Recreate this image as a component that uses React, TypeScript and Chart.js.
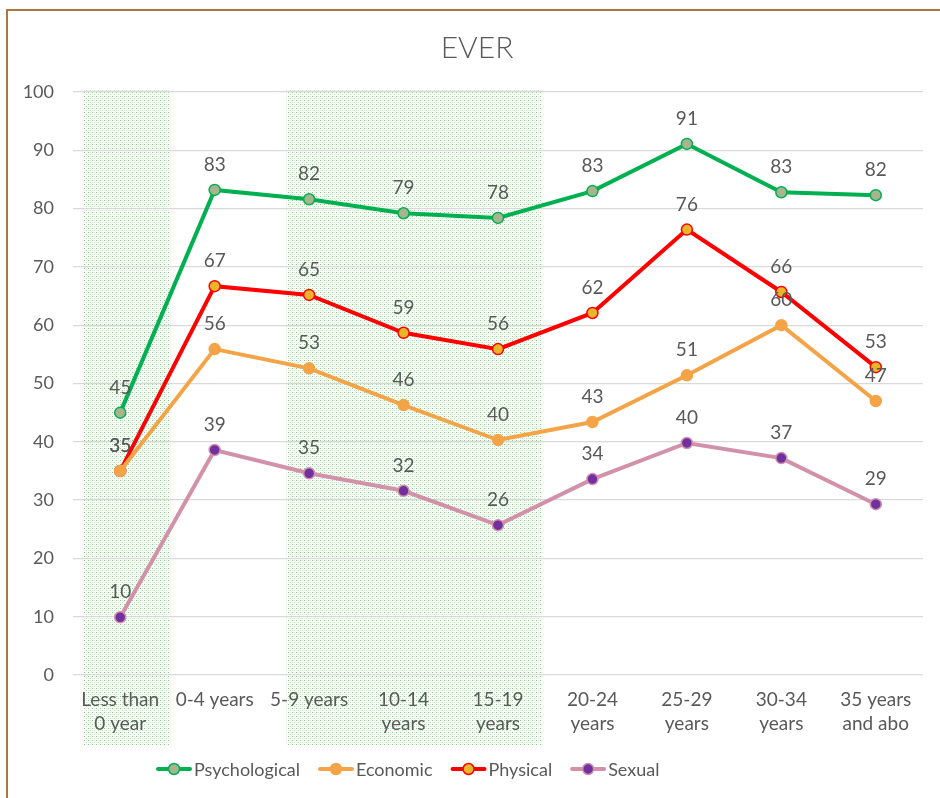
import React, { useEffect, useRef } from "react";
import { Chart, registerables } from "chart.js";

Chart.register(...registerables);

const title = "EVER";
const categories: (string | string[])[] = [
  ["Less than", "0 year"],
  "0-4 years",
  "5-9 years",
  ["10-14", "years"],
  ["15-19", "years"],
  ["20-24", "years"],
  ["25-29", "years"],
  ["30-34", "years"],
  ["35 years", "and abo"],
];
const psychological = [45, 83.2, 81.6, 79.2, 78.4, 83, 91.1, 82.8, 82.3];
const economic = [35, 55.9, 52.6, 46.3, 40.3, 43.4, 51.4, 60, 47];
const physical = [35, 66.7, 65.2, 58.7, 55.9, 62.1, 76.4, 65.7, 52.8];
const sexual = [9.9, 38.6, 34.6, 31.6, 25.7, 33.6, 39.8, 37.2, 29.3];
// shaded category spans (in category index units)
const shadedSpans: [number, number][] = [
  [-0.39, 0.53],
  [1.76, 4.47],
];
const yTicks = { min: 0, max: 100, step: 10 };

const FONT = "Lato, 'Open Sans', sans-serif";
const TEXT = "#595959";

function makePattern(ctx: CanvasRenderingContext2D) {
  const c = document.createElement("canvas");
  c.width = 4;
  c.height = 4;
  const p = c.getContext("2d")!;
  p.fillStyle = "#ffffff";
  p.fillRect(0, 0, 4, 4);
  p.fillStyle = "#8acb8a";
  p.fillRect(0, 0, 1, 1);
  p.fillStyle = "#b9e0b9";
  p.fillRect(2, 2, 1, 1);
  p.fillStyle = "#e3f2e3";
  p.fillRect(2, 0, 1, 1);
  p.fillRect(0, 2, 1, 1);
  return ctx.createPattern(c, "repeat");
}

export default function App() {
  const ref = useRef<HTMLCanvasElement>(null);
  useEffect(() => {
    if (!ref.current) return;
    const shadePlugin = {
      id: "shade",
      beforeDraw(chart: any) {
        const { ctx, chartArea, scales } = chart;
        const xs = scales.x;
        const step = xs.getPixelForValue(1) - xs.getPixelForValue(0);
        ctx.save();
        ctx.fillStyle = makePattern(ctx) as any;
        shadedSpans.forEach(([a, b]) => {
          const x0 = xs.getPixelForValue(0) + a * step;
          const x1 = xs.getPixelForValue(0) + b * step;
          ctx.fillRect(x0, chartArea.top - 3, x1 - x0, chartArea.bottom - chartArea.top + 73);
        });
        ctx.restore();
      },
    };
    const labelsPlugin = {
      id: "labels",
      afterDatasetsDraw(chart: any) {
        const { ctx } = chart;
        ctx.save();
        ctx.font = `19px ${FONT}`;
        ctx.fillStyle = TEXT;
        ctx.textAlign = "center";
        ctx.textBaseline = "middle";
        chart.data.datasets.forEach((ds: any, i: number) => {
          const meta = chart.getDatasetMeta(i);
          meta.data.forEach((pt: any, j: number) => {
            ctx.fillText(String(Math.round(ds.data[j])), pt.x, pt.y - 25);
          });
        });
        ctx.restore();
      },
    };
    const titleLegendPlugin = {
      id: "titleLegend",
      afterDraw(chart: any) {
        const { ctx } = chart;
        ctx.save();
        ctx.font = `300 30px ${FONT}`;
        ctx.fillStyle = TEXT;
        ctx.textAlign = "center";
        ctx.textBaseline = "middle";
        ctx.fillText(title, 477, 48);
        ctx.font = `18px ${FONT}`;
        ctx.textAlign = "left";
        let x = 156;
        const y = 769;
        chart.data.datasets.forEach((ds: any) => {
          ctx.strokeStyle = ds.borderColor;
          ctx.lineWidth = 4;
          ctx.lineCap = "round";
          ctx.beginPath();
          ctx.moveTo(x + 2, y);
          ctx.lineTo(x + 34, y);
          ctx.stroke();
          ctx.beginPath();
          ctx.arc(x + 18, y, 5.5, 0, Math.PI * 2);
          ctx.fillStyle = ds.pointBackgroundColor;
          ctx.fill();
          ctx.lineWidth = 1.5;
          ctx.strokeStyle = ds.pointBorderColor;
          ctx.stroke();
          ctx.fillStyle = TEXT;
          ctx.fillText(ds.label, x + 38, y + 1);
          x += 38 + ctx.measureText(ds.label).width + 18;
        });
        ctx.restore();
      },
    };
    const mk = (label: string, data: number[], line: string, fill: string, border: string) => ({
      label,
      data,
      borderColor: line,
      backgroundColor: line,
      borderWidth: 4,
      pointRadius: 5.5,
      pointBorderWidth: 1.5,
      pointBackgroundColor: fill,
      pointBorderColor: border,
      tension: 0,
    });
    const chart = new Chart(ref.current, {
      type: "line",
      data: {
        labels: categories as any,
        datasets: [
          mk("Psychological", psychological, "#00b050", "#a8b48e", "#00b050"),
          mk("Economic", economic, "#f4a447", "#f4a447", "#f4a447"),
          mk("Physical", physical, "#ff0000", "#e8b52b", "#ff0000"),
          mk("Sexual", sexual, "#d291a9", "#7030a0", "#d291a9"),
        ],
      },
      options: {
        animation: false,
        responsive: false,
        layout: { padding: { left: 0, right: 17, top: 92, bottom: 40 } },
        plugins: { legend: { display: false }, title: { display: false }, tooltip: { enabled: false } },
        scales: {
          x: {
            offset: true,
            grid: { display: false, drawTicks: false },
            border: { display: false },
            ticks: { color: TEXT, font: { family: FONT, size: 19, lineHeight: 1.27 }, padding: 13, maxRotation: 0, autoSkip: false },
            afterFit(scale: any) {
              scale.height = 83;
            },
          },
          y: {
            min: yTicks.min,
            max: yTicks.max,
            grid: { color: "#d9d9d9", lineWidth: 1.3, drawTicks: false },
            border: { display: false },
            ticks: { stepSize: yTicks.step, color: TEXT, font: { family: FONT, size: 18 }, padding: 19 },
            afterFit(scale: any) {
              scale.width = 73;
            },
          },
        },
      },
      plugins: [shadePlugin, labelsPlugin, titleLegendPlugin],
    });
    return () => chart.destroy();
  }, []);
  return (
    <div style={{ position: "fixed", left: 0, top: 0, width: 940, height: 798, background: "#fff" }}>
      <canvas ref={ref} width={940} height={798} style={{ position: "absolute", left: 0, top: 0 }} />
      <div
        style={{
          position: "absolute",
          left: 6,
          top: 9,
          width: 940,
          height: 800,
          borderLeft: "2px solid #a8783c",
          borderTop: "2px solid #a8783c",
          pointerEvents: "none",
        }}
      />
    </div>
  );
}
